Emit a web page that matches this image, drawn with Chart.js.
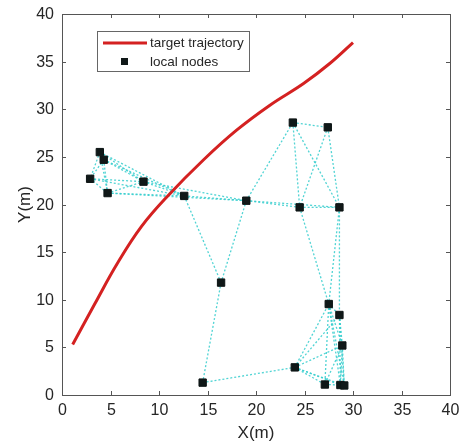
<!DOCTYPE html>
<html>
<head>
<meta charset="utf-8">
<script src="https://cdn.jsdelivr.net/npm/chart.js@4/dist/chart.umd.min.js"></script>
<style>
  html, body { margin: 0; padding: 0; background: #fff; }
  #wrap { width: 461px; height: 446px; }
</style>
</head>
<body>
<div id="wrap"><canvas id="c" width="461" height="446"></canvas></div>
<script>
// target trajectory
const trajX = [1.1, 3.4, 5.7, 8.2, 11.0, 14.6, 18.0, 21.4, 24.9, 27.6, 30.0];
const trajY = [5.3, 9.6, 13.8, 17.7, 21.0, 24.7, 27.8, 30.4, 32.7, 34.8, 37.0];

// local node positions
const nodeX = [3.9, 4.3, 2.9, 4.7, 8.4, 12.6, 19.0, 24.5, 28.6, 23.8, 27.4, 16.4, 27.5, 28.6, 28.9, 24.0, 14.5, 27.1, 28.7, 29.1];
const nodeY = [25.5, 24.7, 22.7, 21.2, 22.4, 20.9, 20.4, 19.7, 19.7, 28.6, 28.1, 11.8, 9.55, 8.4, 5.2, 2.9, 1.3, 1.1, 1.05, 1.0];

// links between nodes (node indices)
const links = [
  [0,1],[0,2],[0,3],[0,4],[1,2],[1,3],[1,4],[2,3],[2,4],[3,4],
  [0,5],[1,5],[2,5],[3,5],[4,5],[4,6],[3,6],
  [5,6],[6,7],[6,8],[7,8],[5,11],[6,11],[6,9],
  [9,10],[9,7],[9,8],[10,7],[10,8],
  [7,12],[8,12],[8,13],
  [11,16],[16,15],
  [15,12],[15,13],[15,14],[15,17],[15,18],[15,19],
  [12,13],[12,14],[12,17],[12,18],[12,19],
  [13,14],[13,18],[13,19],[14,17],[14,18],[14,19],[17,18],[18,19]
];

const tickValues = [0, 5, 10, 15, 20, 25, 30, 35, 40];
const tickLabels = ['0', '5', '10', '15', '20', '25', '30', '35', '40'];

const datasets = [];
links.forEach(function(l) {
  datasets.push({
    label: 'link',
    data: [{x: nodeX[l[0]], y: nodeY[l[0]]}, {x: nodeX[l[1]], y: nodeY[l[1]]}],
    showLine: true,
    borderColor: 'rgba(50,205,205,0.85)',
    borderWidth: 1.3,
    borderDash: [2, 2],
    pointRadius: 0,
    order: 3
  });
});

datasets.push({
  label: 'target trajectory',
  data: trajX.map((x, i) => ({x: x, y: trajY[i]})),
  showLine: true,
  borderColor: '#d42121',
  borderWidth: 3,
  tension: 0.4,
  pointRadius: 0,
  order: 2
});

datasets.push({
  label: 'local nodes',
  data: nodeX.map((x, i) => ({x: x, y: nodeY[i]})),
  showLine: false,
  pointStyle: 'rect',
  pointRadius: 5.2,
  backgroundColor: '#101818',
  borderColor: '#0c1414',
  borderWidth: 1,
  order: 1
});

const FONT = '"Liberation Sans", Arial, sans-serif';

// frame, inward ticks, tick labels, axis titles and legend box like the original figure
const framePlugin = {
  id: 'frame',
  afterDatasetsDraw(chart) {
    const ctx = chart.ctx;
    const a = chart.chartArea;
    const xs = chart.scales.x, ys = chart.scales.y;
    ctx.save();
    ctx.strokeStyle = '#555';
    ctx.lineWidth = 1;
    ctx.strokeRect(a.left + 0.5, a.top + 0.5, a.right - a.left, a.bottom - a.top);
    ctx.fillStyle = '#262626';
    ctx.font = '16px ' + FONT;
    tickValues.forEach(function(v, i) {
      const px = Math.round(xs.getPixelForValue(v)) + 0.5;
      const py = Math.round(ys.getPixelForValue(v)) + 0.5;
      ctx.beginPath();
      ctx.moveTo(px, a.bottom); ctx.lineTo(px, a.bottom - 4);
      ctx.moveTo(px, a.top); ctx.lineTo(px, a.top + 4);
      ctx.moveTo(a.left, py); ctx.lineTo(a.left + 4, py);
      ctx.moveTo(a.right, py); ctx.lineTo(a.right - 4, py);
      ctx.stroke();
      ctx.textBaseline = 'middle';
      ctx.textAlign = 'center';
      ctx.fillText(tickLabels[i], px, a.bottom + 16);
      ctx.textAlign = 'right';
      ctx.fillText(tickLabels[i], a.left - 8, py);
    });

    // axis titles
    ctx.font = '17px ' + FONT;
    ctx.textAlign = 'center';
    ctx.textBaseline = 'middle';
    ctx.fillText('X(m)', (a.left + a.right) / 2, a.bottom + 38);
    ctx.save();
    ctx.translate(25, (a.top + a.bottom) / 2);
    ctx.rotate(-Math.PI / 2);
    ctx.fillText('Y(m)', 0, 0);
    ctx.restore();

    // legend
    ctx.fillStyle = '#fff';
    ctx.fillRect(97.5, 31.5, 152, 40);
    ctx.strokeStyle = '#666';
    ctx.strokeRect(97.5, 31.5, 152, 40);
    ctx.strokeStyle = '#d42121';
    ctx.lineWidth = 3;
    ctx.beginPath();
    ctx.moveTo(103, 43); ctx.lineTo(147, 43);
    ctx.stroke();
    ctx.fillStyle = '#101818';
    ctx.fillRect(121, 58, 7, 7);
    ctx.fillStyle = '#262626';
    ctx.font = '13.5px ' + FONT;
    ctx.textAlign = 'left';
    ctx.textBaseline = 'middle';
    ctx.fillText('target trajectory', 150, 43);
    ctx.fillText('local nodes', 150, 62);
    ctx.restore();
  }
};

new Chart(document.getElementById('c'), {
  type: 'scatter',
  data: { datasets: datasets },
  options: {
    responsive: false,
    animation: false,
    layout: { padding: { top: 14, right: 11, left: 62, bottom: 51 } },
    plugins: {
      legend: { display: false },
      tooltip: { enabled: false }
    },
    scales: {
      x: { type: 'linear', min: 0, max: 40, display: false },
      y: { type: 'linear', min: 0, max: 40, display: false }
    }
  },
  plugins: [framePlugin]
});
</script>
</body>
</html>
